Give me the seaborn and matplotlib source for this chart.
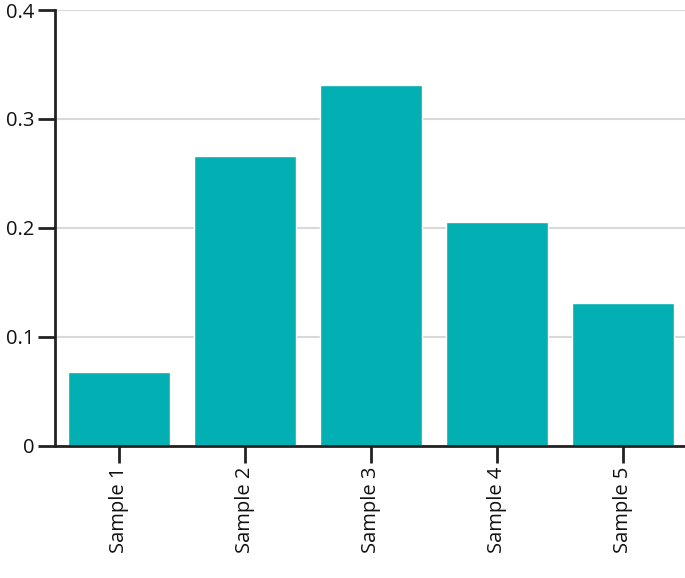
import pandas as pd
import seaborn as sns
import matplotlib.pyplot as plt

# values
samples = ['Sample 1', 'Sample 2', 'Sample 3', 'Sample 4', 'Sample 5']
values = [0.068, 0.266, 0.331, 0.205, 0.131]
y_ticks = [0, 0.1, 0.2, 0.3, 0.4]
y_tick_labels = ['0', '0.1', '0.2', '0.3', '0.4']

df = pd.DataFrame({'sample': samples, 'value': values})

sns.set_style('white')
plt.rcParams['font.family'] = ['Open Sans', 'DejaVu Sans']

fig = plt.figure(figsize=(6.85, 5.78), dpi=100)
ax = fig.add_axes([55 / 685, 132.3 / 578, 630 / 685, 435.7 / 578])

sns.barplot(data=df, x='sample', y='value', color='#02AFB3', saturation=1,
            width=0.81, ax=ax)

ax.set_ylim(0, 0.4)
ax.set_xlim(-0.51, 4.49)
ax.set_yticks(y_ticks)
ax.set_yticklabels(y_tick_labels)
ax.set_xlabel('')
ax.set_ylabel('')

# light horizontal gridlines behind bars
ax.set_axisbelow(True)
ax.yaxis.grid(True, color='#d9d9d9', linewidth=1.5)

sns.despine(ax=ax, top=True, right=True)
for side in ['left', 'bottom']:
    ax.spines[side].set_color('#222222')
    ax.spines[side].set_linewidth(2)

ax.tick_params(axis='both', left=True, bottom=True, length=12, width=2,
               color='#222222', labelsize=14.5, labelcolor='#111111', pad=3)
plt.setp(ax.get_xticklabels(), rotation=90)

fig.savefig('out.png', dpi=100)
